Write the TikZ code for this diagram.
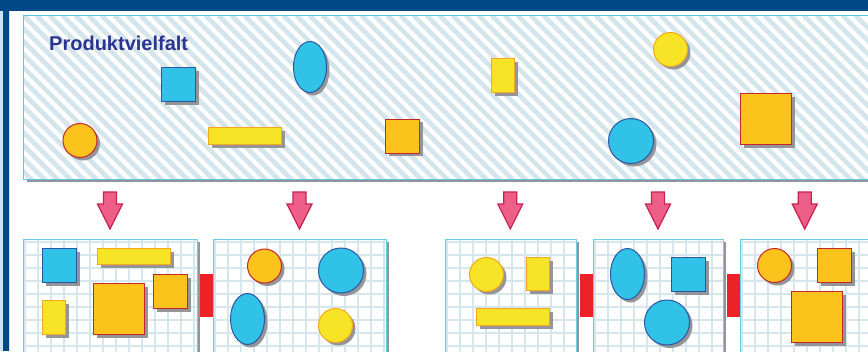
\documentclass[tikz,border=0pt]{standalone}
\usepackage{fontspec}
\setmainfont{Liberation Sans}
\usetikzlibrary{shapes.geometric,shadows}
\definecolor{framec}{RGB}{0,72,135}
\definecolor{palec}{RGB}{208,228,242}
\definecolor{panelline}{RGB}{90,198,228}
\definecolor{hatchc}{RGB}{212,230,235}
\definecolor{shadowc}{RGB}{147,149,152}
\definecolor{cyanf}{RGB}{49,194,231}
\definecolor{blueb}{RGB}{42,86,165}
\definecolor{orangef}{RGB}{251,195,28}
\definecolor{redb}{RGB}{196,38,46}
\definecolor{yellowf}{RGB}{248,228,38}
\definecolor{yellowb}{RGB}{248,165,31}
\definecolor{pinkf}{RGB}{237,95,136}
\definecolor{pinkb}{RGB}{201,33,78}
\definecolor{connc}{RGB}{236,34,39}
\definecolor{titlec}{RGB}{43,52,144}
\definecolor{gridc}{RGB}{213,230,236}
\definecolor{boxline}{RGB}{108,205,232}
\tikzset{
  shp/.style={inner sep=0pt, outer sep=0pt, line width=1pt,
    drop shadow={shadow xshift=3pt, shadow yshift=-3pt, fill=shadowc, opacity=1}},
  bl/.style={shp, fill=cyanf, draw=blueb},
  og/.style={shp, fill=orangef, draw=redb},
  ye/.style={shp, fill=yellowf, draw=yellowb},
  sq/.style={rectangle, minimum size=#1},
  rc/.style args={#1x#2}{rectangle, minimum width=#1, minimum height=#2},
  ci/.style={circle, minimum size=#1},
  el/.style args={#1x#2}{ellipse, minimum width=#1, minimum height=#2},
  hatchline/.style={draw=hatchc, line width=4.6pt},
  gridline/.style={draw=gridc, line width=1.3pt},
  panel/.style={rectangle, anchor=north west, inner sep=0pt, fill=white, draw=panelline, line width=1pt,
    path picture={\foreach \k in {-16,...,70}{\draw[hatchline] ([xshift=\k*13pt]path picture bounding box.north west) -- ++(190pt,-190pt);}}},
  gridbox/.style={rectangle, anchor=north west, inner sep=0pt, fill=white, draw=boxline, line width=1pt,
    path picture={\foreach \k in {0,...,13}{
      \draw[gridline] ([xshift={1.5pt+\k*13pt}]path picture bounding box.north west) -- ([xshift={1.5pt+\k*13pt}]path picture bounding box.south west);
      \draw[gridline] ([yshift={-2.5pt-\k*13pt}]path picture bounding box.north west) -- ([yshift={-2.5pt-\k*13pt}]path picture bounding box.north east);}}},
  shadowbox/.style={rectangle, anchor=north west, inner sep=0pt, fill=shadowc},
  conn/.style={rectangle, inner sep=0pt, fill=connc, minimum width=13pt, minimum height=43pt},
  parrow/.style={fill=pinkf, draw=pinkb, line width=1.2pt, line join=miter},
}
\begin{document}
\begin{tikzpicture}[x=1pt,y=-1pt]
\useasboundingbox (0,0) rectangle (868,351);
\clip (0,0) rectangle (868,351);
% frame
\fill[palec] (0,0) rectangle (3,351);
\fill[framec] (3,0) rectangle (9.2,351);
\fill[framec] (0,0) rectangle (868,11);
\draw[palec, line width=0.8pt] (9.6,11) -- (9.6,351);
% top panel
\node[shadowbox, minimum width=880pt, minimum height=164pt] (Ps) at (26.5,18) {};
\node[panel, minimum width=880pt, minimum height=164pt] (P) at (23,15) {};
\node[anchor=base west, text=titlec, font=\bfseries\fontsize{20}{24}\selectfont, inner sep=0pt] (T) at (49,50) {Produktvielfalt};
% top shapes
\node[bl, sq=34pt] (t1) at (178.5,84.5) {};
\node[og, ci=34pt] (t2) at (80,140.5) {};
\node[ye, rc=73ptx17pt] (t3) at (245,136) {};
\node[bl, el=33ptx51pt] (t4) at (310,67) {};
\node[og, sq=34pt] (t5) at (402.5,136) {};
\node[ye, rc=23ptx34pt] (t6) at (503,75.5) {};
\node[ye, ci=34pt] (t7) at (670.5,49.5) {};
\node[bl, ci=45pt] (t8) at (631,141) {};
\node[og, sq=51pt] (t9) at (766,119) {};
% arrows
\foreach \c/\n in {110/a1, 299.5/a2, 510.3/a3, 658/a4, 804.7/a5}{
  \draw[parrow] (\c-6.5,192) -- (\c+6.5,192) -- (\c+6.5,204) -- (\c+12.5,204) -- (\c,229) -- (\c-12.5,204) -- (\c-6.5,204) -- cycle;
}
% grid boxes
\foreach \x/\w in {23/174, 213/173, 445/131, 593/130, 740/180}{
  \node[shadowbox, minimum width=\w pt, minimum height=140pt] at (\x+3,242) {};
}
\node[gridbox, minimum width=174pt, minimum height=140pt] (B1) at (23,239) {};
\node[gridbox, minimum width=173pt, minimum height=140pt] (B2) at (213,239) {};
\node[gridbox, minimum width=131pt, minimum height=140pt] (B3) at (445,239) {};
\node[gridbox, minimum width=130pt, minimum height=140pt] (B4) at (593,239) {};
\node[gridbox, minimum width=180pt, minimum height=140pt] (B5) at (740,239) {};
% connectors
\node[conn] (c12) at (206.5,295.5) {};
\node[conn] (c34) at (586.2,295.5) {};
\node[conn] (c45) at (733.2,295.5) {};
% box 1
\node[bl, sq=34pt] (b11) at (59.5,265.5) {};
\node[ye, rc=73ptx16pt] (b12) at (134,256.5) {};
\node[og, sq=34pt] (b13) at (170.5,291.5) {};
\node[og, sq=51pt] (b14) at (119,309) {};
\node[ye, rc=23ptx34pt] (b15) at (54,317.5) {};
% box 2
\node[og, ci=34pt] (b21) at (264.5,266) {};
\node[bl, ci=45pt] (b22) at (341,270.5) {};
\node[bl, el=34ptx51pt] (b23) at (247.5,319) {};
\node[ye, ci=34pt] (b24) at (335.5,325.5) {};
% box 3
\node[ye, ci=34pt] (b31) at (486.5,274.5) {};
\node[ye, rc=23ptx33pt] (b32) at (538,274) {};
\node[ye, rc=73ptx17pt] (b33) at (513,317) {};
% box 4
\node[bl, el=34ptx51pt] (b41) at (627.5,274) {};
\node[bl, sq=34pt] (b42) at (688.5,274.5) {};
\node[bl, ci=45pt] (b43) at (667,322.5) {};
% box 5
\node[og, ci=34pt] (b51) at (774.5,265.5) {};
\node[og, sq=34pt] (b52) at (834.5,265.5) {};
\node[og, sq=51pt] (b53) at (817,317) {};
\end{tikzpicture}
\end{document}
